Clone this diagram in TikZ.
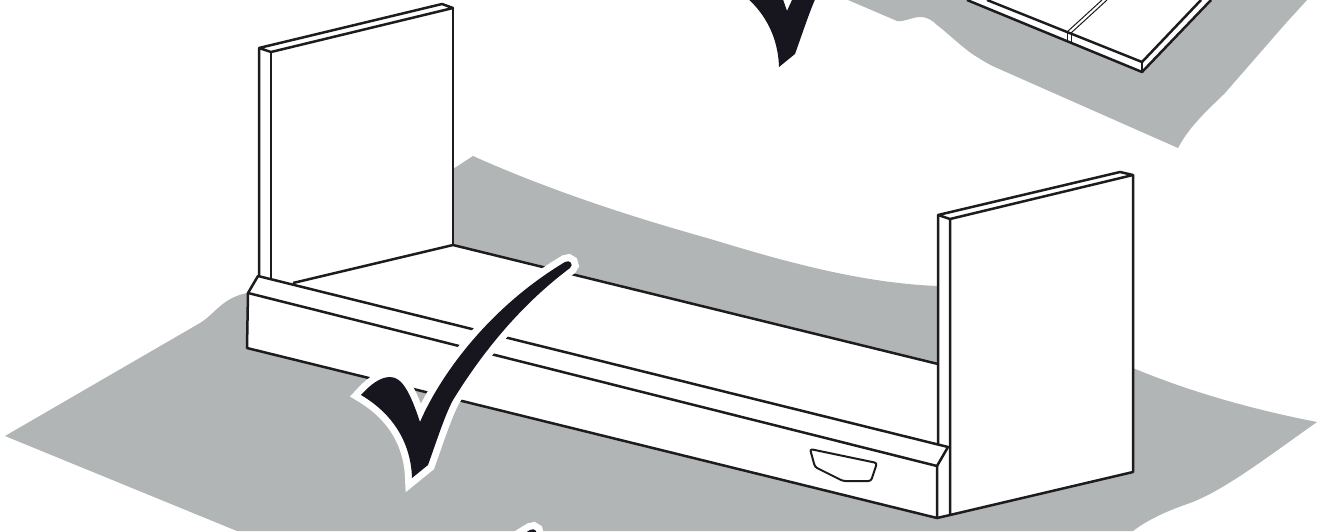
\documentclass[tikz,border=0pt]{standalone}
\usepackage{xcolor}
\usetikzlibrary{arrows.meta}
\definecolor{floorgray}{RGB}{177,181,181}
\definecolor{inkline}{RGB}{29,27,30}
\definecolor{inkcheck}{RGB}{23,21,29}
\newcommand{\checkmarkpath}{(420,422) .. controls (438,380) and (485,310) .. (565,262)
  .. controls (570,259) and (574,265) .. (570,268)
  .. controls (530,298) and (490,340) .. (453,400)
  .. controls (445,415) and (438,437) .. (428,465) -- (412,478)
  .. controls (411,445) and (395,415) .. (361,395)
  .. controls (370,385) and (380,377) .. (390,377)
  .. controls (402,377) and (410,392) .. (420,422) -- cycle}
\begin{document}
\begin{tikzpicture}[x=1pt, y=-1pt,
  floorsheet/.style={fill=floorgray, draw=none},
  edge/.style={draw=inkline, line width=2.5pt, line join=round},
  thinedge/.style={draw=inkline, line width=1pt},
  checkhalo/.style={draw=white, fill=white, line width=14pt, line join=miter, miter limit=10},
  checkfill/.style={fill=inkcheck, draw=none}]
\useasboundingbox (0,0) rectangle (1319,531);
\fill[white] (0,0) rectangle (1319,531);
% floor
\path[floorsheet] (5,436) -- (200,323) .. controls (215,314) and (222,298) .. (247,293)
  -- (453,169) -- (473,156)
  .. controls (560,195) and (650,222) .. (707,238)
  .. controls (770,257) and (855,283) .. (938,286)
  -- (1133,368) .. controls (1190,392) and (1255,410) .. (1317,422)
  .. controls (1270,455) and (1225,490) .. (1190,503)
  .. controls (1170,510) and (1150,518) .. (1133,531)
  -- (237,531) -- cycle;
% floor, top right
\path[floorsheet] (848,0) -- (897,21)
  .. controls (905,22) and (912,17) .. (920,17)
  .. controls (928,17) and (933,21) .. (937,25)
  .. controls (950,35) and (965,50) .. (977,57)
  .. controls (985,62) and (990,65) .. (997,68)
  -- (1178,148) .. controls (1190,125) and (1210,108) .. (1225,93)
  -- (1286,23) -- (1307,0) -- cycle;
% plate
\fill[white] (967,0) -- (1142,72) -- (1211,0) -- cycle;
\draw[edge] (967,0) -- (1142,72) -- (1211,0);
\draw[edge] (987,0) -- (1142,62) -- (1201,0);
\draw[edge, line width=1.6pt] (1142,62) -- (1142,72);
\draw[thinedge] (1067,32) -- (1067,41) (1071,33) -- (1071,43);
\draw[thinedge] (1067,32) -- (1102,0) (1071,33) -- (1107,0);
% cabinet
\fill[white] (259,48) -- (442,4) -- (453,8) -- (453,245) -- (938,364) -- (938,215)
  -- (1120,172) -- (1133,175) -- (1133,472) -- (937,518) -- (247,348) -- (248,293)
  -- (258,276) -- cycle;
\draw[edge] (259,276) -- (259,48) -- (442,4) -- (453,8) -- (271,52) -- (259,48);
\draw[edge] (271,52) -- (271,279) (453,8) -- (453,245);
\draw[edge] (293,283) -- (453,245) -- (938,364);
\draw[edge] (938,444) -- (938,215) -- (1120,172) -- (1133,175) -- (950,219) -- (938,215);
\draw[edge] (950,219) -- (950,515) (1133,175) -- (1133,472) -- (950,515) -- (937,518);
\draw[edge] (258,276) -- (948,447) -- (937,466) -- (248,293) -- cycle;
\draw[edge] (248,293) -- (247,348) -- (937,518) -- (937,466);
% handle
\draw[edge, line width=2pt, rounded corners=2.5pt] (810,449) -- (877,463) -- (871,481)
  -- (843,481) -- (815,467) -- cycle;
% check marks
\foreach \dx/\dy in {0/0, 367/-411, -35/268} {
  \begin{scope}[shift={(\dx,\dy)}]
    \path[checkhalo] \checkmarkpath;
    \path[checkfill] \checkmarkpath;
  \end{scope}
}
\end{tikzpicture}
\end{document}
